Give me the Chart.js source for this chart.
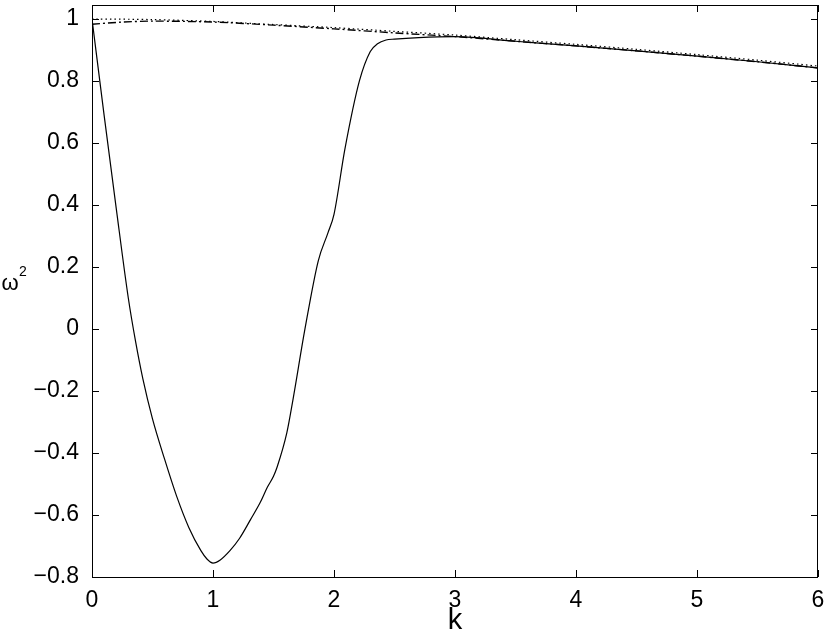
<!DOCTYPE html>
<html>
<head>
<meta charset="utf-8">
<script src="https://cdn.jsdelivr.net/npm/chart.js@4.4.0/dist/chart.umd.min.js"></script>
<style>
  body { margin: 0; background: #fff; }
  canvas { display: block; }
</style>
</head>
<body>
<canvas id="myChart" width="830" height="640"></canvas>
<script>
// curve values
const solidK = [0, 0.1, 0.2, 0.3, 0.36, 0.42, 0.5, 0.6, 0.7, 0.8, 0.9, 0.95, 1.0, 1.06, 1.14, 1.22, 1.31, 1.39, 1.45, 1.5, 1.53, 1.61, 1.66, 1.76, 1.87, 1.95, 2.0, 2.09, 2.21, 2.3, 2.36, 2.43, 2.5, 2.7, 3.0, 3.5, 4.0, 4.5, 5.0, 5.5, 6.0];
const solidW = [1.0, 0.69, 0.39, 0.1, -0.04, -0.16, -0.29, -0.42, -0.54, -0.64, -0.715, -0.742, -0.755, -0.745, -0.715, -0.675, -0.615, -0.56, -0.51, -0.475, -0.445, -0.335, -0.23, 0.0, 0.22, 0.31, 0.37, 0.58, 0.8, 0.895, 0.92, 0.932, 0.935, 0.94, 0.943, 0.928, 0.913, 0.897, 0.88, 0.862, 0.842];

const dashK = [0, 0.25, 0.5, 1, 1.5, 2, 2.5, 3, 3.5, 4, 4.5, 5, 5.5, 6];
const dashW = [0.983, 0.99, 0.993, 0.99, 0.98, 0.968, 0.955, 0.943, 0.928, 0.913, 0.897, 0.88, 0.862, 0.842];

const dotK = [0, 0.5, 1, 1.5, 2, 2.5, 3, 3.5, 4, 4.5, 5, 5.5, 6];
const dotW = [1.0, 0.998, 0.992, 0.982, 0.972, 0.96, 0.948, 0.933, 0.918, 0.902, 0.885, 0.867, 0.848];

const xTicks = [0, 1, 2, 3, 4, 5, 6];
const yTicks = [-0.8, -0.6, -0.4, -0.2, 0, 0.2, 0.4, 0.6, 0.8, 1];
const yTickLabels = ['\u22120.8', '\u22120.6', '\u22120.4', '\u22120.2', '0', '0.2', '0.4', '0.6', '0.8', '1'];

Chart.defaults.font.family = '"Liberation Sans", Arial, sans-serif';
Chart.defaults.font.size = 23;
Chart.defaults.color = '#000';

function pts(ks, ws) {
  return ks.map((k, i) => ({x: k, y: ws[i]}));
}

// ticks pointing inward on all four sides, plus the box and axis titles
const frame = {
  id: 'frame',
  afterDraw(chart) {
    const c = chart.ctx, a = chart.chartArea;
    const xs = chart.scales.x, ys = chart.scales.y;
    c.save();
    c.strokeStyle = '#000';
    c.lineWidth = 1;
    c.strokeRect(a.left + 0.5, a.top + 0.5, a.right - a.left - 1, a.bottom - a.top);
    c.beginPath();
    xTicks.forEach(v => {
      const px = Math.round(xs.getPixelForValue(v)) + 0.5;
      c.moveTo(px, a.bottom); c.lineTo(px, a.bottom - 7);
      c.moveTo(px, a.top); c.lineTo(px, a.top + 7);
    });
    yTicks.forEach(v => {
      const py = Math.round(ys.getPixelForValue(v)) + 0.5;
      c.moveTo(a.left, py); c.lineTo(a.left + 7, py);
      c.moveTo(a.right, py); c.lineTo(a.right - 7, py);
    });
    c.stroke();
    c.fillStyle = '#000';
    c.textAlign = 'center';
    c.textBaseline = 'middle';
    c.font = '29px "Liberation Sans", Arial, sans-serif';
    c.fillText('k', (a.left + a.right) / 2, 621);
    c.font = '22px "Liberation Sans", Arial, sans-serif';
    c.fillText('\u03c9', 10, 284);
    c.font = '14px "Liberation Sans", Arial, sans-serif';
    c.fillText('2', 23, 272);
    c.restore();
  }
};

const ctx = document.querySelector('#myChart').getContext('2d');
const myChart = new Chart(ctx, {
  type: 'line',
  data: {
    datasets: [
      {
        label: 'dotted',
        data: pts(dotK, dotW),
        borderColor: '#000',
        borderWidth: 1.2,
        borderDash: [1.5, 3],
        pointRadius: 0,
        tension: 0.3
      },
      {
        label: 'dashdot',
        data: pts(dashK, dashW),
        borderColor: '#000',
        borderWidth: 1.4,
        borderDash: [8, 3, 2, 3],
        pointRadius: 0,
        tension: 0.3
      },
      {
        label: 'solid',
        data: pts(solidK, solidW),
        borderColor: '#000',
        borderWidth: 1.2,
        pointRadius: 0,
        cubicInterpolationMode: 'monotone'
      }
    ]
  },
  options: {
    responsive: false,
    animation: false,
    layout: { padding: { left: 0, right: 12, top: 5, bottom: 0 } },
    plugins: {
      legend: { display: false },
      tooltip: { enabled: false }
    },
    scales: {
      x: {
        type: 'linear',
        min: 0,
        max: 6,
        grid: { display: false },
        border: { display: false },
        afterBuildTicks: s => { s.ticks = xTicks.map(v => ({value: v})); },
        afterFit: s => { s.height = 63; s.paddingLeft = 0; s.paddingRight = 0; },
        ticks: {
          padding: 2,
          font: { size: 23 },
          callback: v => String(v)
        }
      },
      y: {
        min: -0.8,
        max: 1.045,
        grid: { display: false },
        border: { display: false },
        afterBuildTicks: s => { s.ticks = yTicks.map(v => ({value: v})); },
        afterFit: s => { s.width = 92; s.paddingTop = 0; s.paddingBottom = 0; },
        ticks: {
          padding: 5,
          font: { size: 23 },
          callback: (v) => {
            const i = yTicks.findIndex(t => Math.abs(t - v) < 1e-6);
            return i >= 0 ? yTickLabels[i] : '';
          }
        }
      }
    }
  },
  plugins: [frame]
});
</script>
</body>
</html>
